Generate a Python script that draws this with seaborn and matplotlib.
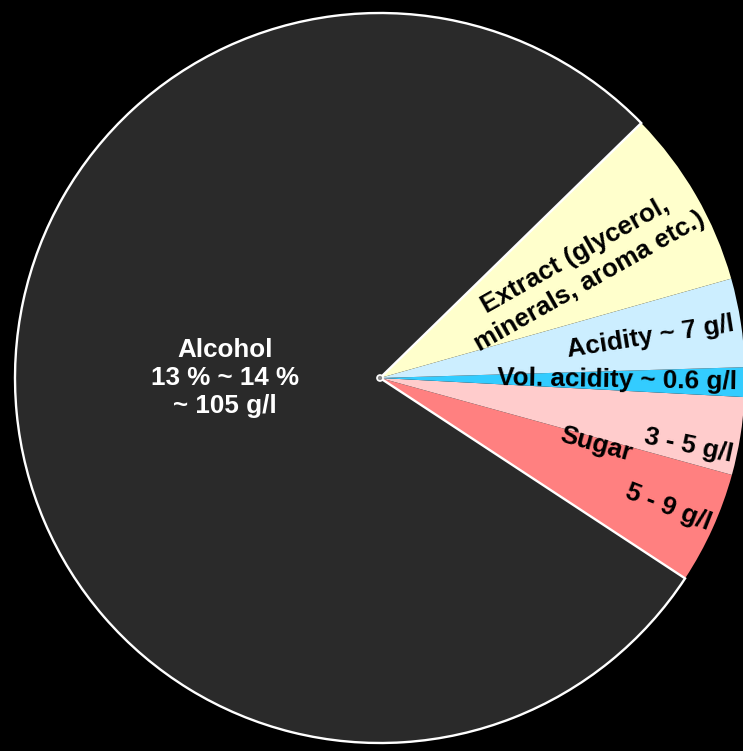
import numpy as np
import matplotlib
matplotlib.use("Agg")
import matplotlib.pyplot as plt
import seaborn as sns
from matplotlib.patches import Circle, Wedge

# ---- data (angular share of each component, degrees) ----
components = ["Alcohol", "Sugar 5-9", "Sugar 3-5", "Vol. acidity", "Acidity", "Extract"]
shares = [282.4, 17.9, 12.4, 4.7, 14.1, 28.5]
labels = [
    "Alcohol\n13 % ~ 14 %\n~ 105 g/l",
    "5 - 9 g/l",
    "3 - 5 g/l",
    "Vol. acidity ~ 0.6 g/l",
    "Acidity ~ 7 g/l",
    "Extract (glycerol,\nminerals, aroma etc.)",
]
colors = ["#2a2a2a", "#ff8080", "#ffcccc", "#33ccff", "#cceeff", "#ffffcc"]

sns.set_theme(style="dark")
plt.rcParams["font.family"] = ["Liberation Sans", "DejaVu Sans"]

fig = plt.figure(figsize=(7.43, 7.51), dpi=100, facecolor="black")
ax = fig.add_axes([0, 0, 1, 1])
ax.set_facecolor("black")

wedges, _ = ax.pie(shares, colors=sns.color_palette(colors), startangle=44.3,
                   counterclock=True, radius=1.0,
                   wedgeprops=dict(linewidth=0))
# white outline on the alcohol wedge only (drawn as an unfilled overlay)
w0 = wedges[0]
ax.add_patch(Wedge(w0.center, w0.r, w0.theta1, w0.theta2, fill=False,
                   edgecolor="white", linewidth=1.7, zorder=4))

R = 365.0
ax.set_xlim(-380 / R, (743 - 380) / R)
ax.set_ylim(-(751 - 378) / R, 378 / R)
ax.set_aspect("auto")
ax.axis("off")

ax.add_patch(Circle((0, 0), 3 / R, facecolor="#888888", edgecolor="white", lw=1.2, zorder=5))

fs = 18.7
# alcohol label
ax.text(-0.425, 0.0, labels[0], color="white", fontsize=fs, fontweight="bold",
        ha="center", va="center", linespacing=1.2, zorder=6)

# label layout: (radius, angle deg, rotation deg)
layout = {
    1: (0.865, -24.1, -21.5),
    2: (0.865, -12.3, -12.0),
    3: (0.65, -0.5, -1.0),
    4: (0.75, 8.6, 9.0),
    5: (0.63, 28.4, 29.5),
}
for i, (r, a, rot) in layout.items():
    t = np.deg2rad(a)
    ax.text(r * np.cos(t), r * np.sin(t), labels[i], color="black", fontsize=fs,
            fontweight="bold", ha="center", va="center", rotation=rot,
            rotation_mode="anchor", linespacing=1.3 if i == 5 else 1.15,
            multialignment="center", zorder=6)

# "Sugar" label spanning both sugar wedges
t = np.deg2rad(-17.0)
ax.text(0.62 * np.cos(t), 0.62 * np.sin(t), "Sugar", color="black", fontsize=fs,
        fontweight="bold", ha="center", va="center", rotation=-15.6,
        rotation_mode="anchor", zorder=6)

fig.savefig("out.png", dpi=100, facecolor="black")
